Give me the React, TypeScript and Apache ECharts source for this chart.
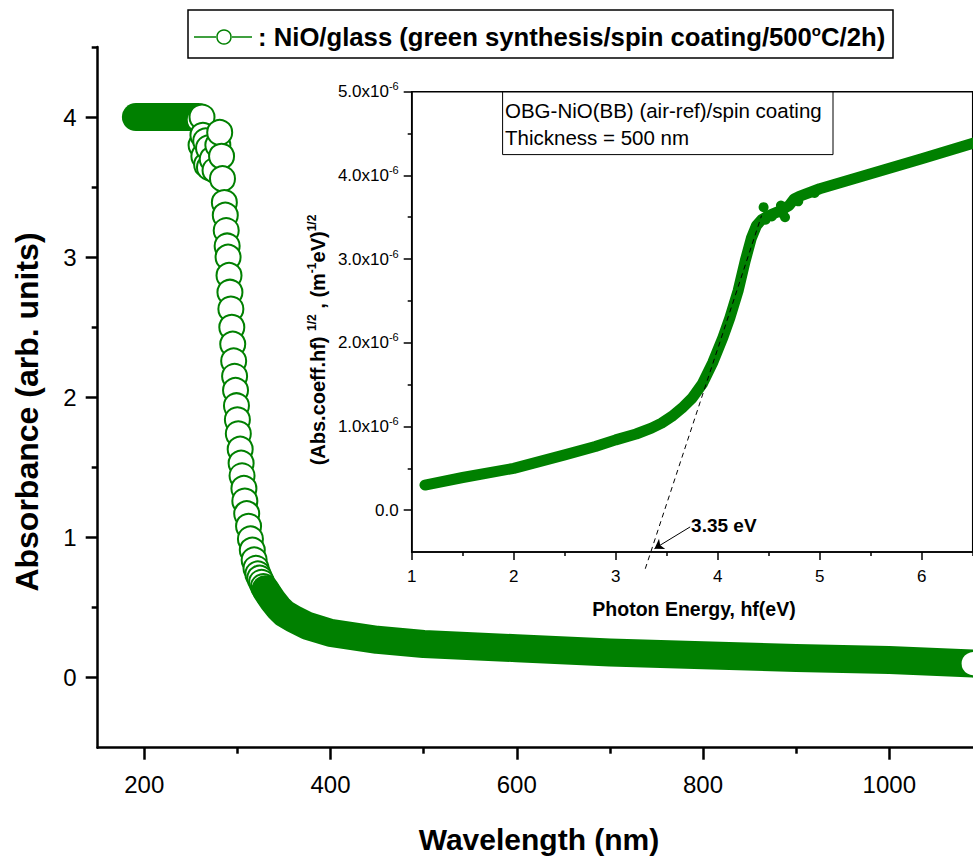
import React, { useEffect, useRef } from 'react';
import * as echarts from 'echarts';

// ---------- main panel data (wavelength nm, absorbance) ----------
const flatWavelength = [191, 200, 210, 220, 230, 240, 250, 258];
const flatAbsorbance = [4.0, 4.0, 4.0, 4.0, 4.0, 4.0, 4.0, 4.0];

const edgeWavelength = [259, 261, 262, 263, 264, 266, 267, 269, 270, 273, 276, 279, 281, 283, 284, 286, 287, 288, 289, 290, 291, 292, 293, 294, 295, 296, 297, 298, 299, 300, 301, 303, 304, 305, 307, 308, 310, 312, 314, 316, 318, 320, 322, 324, 326, 328, 331, 334];
const edgeAbsorbance = [3.98, 3.8, 4.0, 3.87, 3.72, 3.83, 3.66, 3.78, 3.64, 3.7, 3.62, 3.8, 3.89, 3.72, 3.56, 3.39, 3.3, 3.19, 3.08, 3.0, 2.87, 2.75, 2.63, 2.5, 2.38, 2.26, 2.15, 2.05, 1.94, 1.84, 1.74, 1.63, 1.53, 1.44, 1.35, 1.26, 1.17, 1.08, 0.99, 0.91, 0.84, 0.78, 0.74, 0.71, 0.68, 0.65, 0.62, 0.59];

const tailWavelength = [330, 334, 338, 344, 350, 360, 375, 400, 450, 500, 600, 700, 800, 900, 1000, 1090];
const tailAbsorbance = [0.63, 0.59, 0.55, 0.5, 0.46, 0.42, 0.37, 0.32, 0.27, 0.24, 0.21, 0.18, 0.16, 0.14, 0.125, 0.1];

const endWavelength = [1090];
const endAbsorbance = [0.1];

// ---------- inset data (photon energy eV, (alpha h nu)^1/2 in 1e-6 units) ----------
const photonEnergy = [1.13, 1.5, 2.0, 2.5, 2.8, 3.0, 3.2, 3.35, 3.45, 3.55, 3.65, 3.75, 3.85, 3.95, 4.05, 4.12, 4.2, 4.27, 4.33, 4.38, 4.43, 4.5, 4.6, 4.7, 4.75, 4.8, 5.0, 5.5, 6.0, 6.55];
const taucValue = [0.3, 0.39, 0.5, 0.66, 0.76, 0.84, 0.91, 0.98, 1.04, 1.12, 1.22, 1.34, 1.51, 1.76, 2.06, 2.3, 2.62, 2.98, 3.25, 3.4, 3.47, 3.52, 3.57, 3.64, 3.72, 3.75, 3.84, 4.02, 4.2, 4.4];

const noiseEnergy = [4.45, 4.47, 4.53, 4.62, 4.64, 4.66, 4.79, 4.95];
const noiseValue = [3.62, 3.47, 3.51, 3.64, 3.54, 3.5, 3.69, 3.79];

const tangentEnergy = [3.29, 4.43];
const tangentValue = [-0.7, 3.52];

const arrowFrom = [3.73, -0.2];
const arrowTo = [3.38, -0.46];
const bandGapLabelAt = [4.06, -0.18];
const bandGapText = '3.35 eV';

// ---------- ticks ----------
const mainXTicks = [200, 400, 600, 800, 1000];
const mainXMinor = [300, 500, 700, 900, 1100];
const mainYTicks = [0, 1, 2, 3, 4];
const mainYMinor = [0.5, 1.5, 2.5, 3.5, 4.5];
const insetXTicks = [1, 2, 3, 4, 5, 6];
const insetXMinor = [1.5, 2.5, 3.5, 4.5, 5.5, 6.5];
const insetYTicks = [0, 1, 2, 3, 4, 5];
const insetYMinor = [0.5, 1.5, 2.5, 3.5, 4.5];

const G = '#008000';
const FONT = "'Liberation Sans', Arial, Helvetica, sans-serif";

const zip = (a: number[], b: number[]) => a.map((v, i) => [v, b[i]]);

function majorAxis(gridIndex: number, min: number, max: number, ticks: number[], pos: string, opts: any) {
  return {
    type: 'value', gridIndex, min, max, position: pos,
    axisLine: { show: true, onZero: false, lineStyle: { color: '#000', width: opts.lw } },
    axisTick: { show: true, inside: false, length: opts.tl, customValues: ticks, lineStyle: { color: '#000', width: opts.lw } },
    axisLabel: {
      show: true, customValues: ticks, fontSize: opts.fs, color: '#000', margin: opts.margin, fontFamily: FONT,
      formatter: opts.formatter || ((v: number) => String(v)), rich: opts.rich,
    },
    splitLine: { show: false },
  };
}
function minorAxis(gridIndex: number, min: number, max: number, ticks: number[], pos: string, len: number, lw: number) {
  return {
    type: 'value', gridIndex, min, max, position: pos,
    axisLine: { show: false, onZero: false },
    axisTick: { show: true, inside: false, length: len, customValues: ticks, lineStyle: { color: '#000', width: lw } },
    axisLabel: { show: false },
    splitLine: { show: false },
  };
}

export default function App() {
  const ref = useRef<HTMLDivElement>(null);
  useEffect(() => {
    if (!ref.current) return;
    const chart = echarts.init(ref.current, undefined, { renderer: 'svg' });
    const option: any = {
      animation: false,
      textStyle: { fontFamily: FONT, color: '#000' },
      grid: [
        { left: 97.7, top: 47, width: 884.7, height: 700.7, show: false, containLabel: false, outerBoundsMode: 'none' },
        { left: 411.7, top: 91.7, width: 561, height: 460.3, show: true, borderColor: '#000', borderWidth: 1.5, backgroundColor: 'rgba(0,0,0,0)', containLabel: false, outerBoundsMode: 'none' },
      ],
      xAxis: [
        majorAxis(0, 150, 1100, mainXTicks, 'bottom', { lw: 2.5, tl: 12, fs: 24, margin: 25 }),
        minorAxis(0, 150, 1100, mainXMinor, 'bottom', 6, 2.5),
        majorAxis(1, 1, 6.5, insetXTicks, 'bottom', { lw: 1.5, tl: 8, fs: 17, margin: 16 }),
        minorAxis(1, 1, 6.5, insetXMinor, 'bottom', 4, 1.5),
      ],
      yAxis: [
        majorAxis(0, -0.5, 4.5, mainYTicks, 'left', { lw: 2.5, tl: 12, fs: 24, margin: 21 }),
        minorAxis(0, -0.5, 4.5, mainYMinor, 'left', 6, 2.5),
        majorAxis(1, -0.5, 5, insetYTicks, 'left', {
          lw: 1.5, tl: 8, fs: 17, margin: 13,
          formatter: (v: number) => (v === 0 ? '{a|0.0}' : `{a|${v.toFixed(1)}x10}{b|-6}`),
          rich: {
            a: { fontSize: 17, color: '#000', fontFamily: FONT, lineHeight: 22 },
            b: { fontSize: 11, color: '#000', fontFamily: FONT, verticalAlign: 'top', lineHeight: 13 },
          },
        }),
        minorAxis(1, -0.5, 5, insetYMinor, 'left', 4, 1.5),
      ],
      series: [
        {
          type: 'line', xAxisIndex: 0, yAxisIndex: 0, data: zip(flatWavelength, flatAbsorbance),
          symbol: 'none', showSymbol: false, silent: true, z: 2,
          lineStyle: { color: G, width: 28, cap: 'round', join: 'round' },
        },
        {
          type: 'scatter', xAxisIndex: 0, yAxisIndex: 0, data: zip(edgeWavelength, edgeAbsorbance),
          symbol: 'circle', symbolSize: 25, silent: true, z: 3,
          itemStyle: { color: '#fff', borderColor: G, borderWidth: 2, opacity: 1 },
        },
        {
          type: 'line', xAxisIndex: 0, yAxisIndex: 0, data: zip(tailWavelength, tailAbsorbance),
          symbol: 'none', showSymbol: false, silent: true, z: 4,
          lineStyle: { color: G, width: 28, cap: 'round', join: 'round' },
        },
        {
          type: 'scatter', xAxisIndex: 0, yAxisIndex: 0, data: zip(endWavelength, endAbsorbance),
          symbol: 'circle', symbolSize: 25, silent: true, z: 5, clip: false,
          itemStyle: { color: '#fff', borderColor: G, borderWidth: 2, opacity: 1 },
        },
        {
          type: 'line', xAxisIndex: 2, yAxisIndex: 2, data: zip(photonEnergy, taucValue),
          symbol: 'none', showSymbol: false, silent: true, z: 3,
          lineStyle: { color: G, width: 11, cap: 'round', join: 'round' },
        },
        {
          type: 'scatter', xAxisIndex: 2, yAxisIndex: 2, data: zip(noiseEnergy, noiseValue),
          symbol: 'circle', symbolSize: 10, silent: true, z: 3,
          itemStyle: { color: G, opacity: 1 },
        },
        {
          type: 'line', xAxisIndex: 2, yAxisIndex: 2, data: zip(tangentEnergy, tangentValue),
          symbol: 'none', showSymbol: false, silent: true, clip: false, z: 4,
          lineStyle: { color: '#000', width: 1, type: [5, 4] },
          markLine: {
            silent: true, animation: false, symbolSize: 9,
            label: { show: false },
            lineStyle: { color: '#000', width: 1, type: 'solid' },
            data: [[
              { coord: arrowFrom, symbol: 'none' },
              { coord: arrowTo, symbol: 'arrow' },
            ]],
          },
        },
        {
          type: 'scatter', xAxisIndex: 2, yAxisIndex: 2, data: [bandGapLabelAt],
          symbol: 'circle', symbolSize: 1, silent: true, z: 6,
          itemStyle: { color: 'rgba(0,0,0,0)' },
          label: {
            show: true, position: 'inside', formatter: bandGapText, fontSize: 19, fontWeight: 'bold',
            color: '#000', fontFamily: FONT, textBorderWidth: 0, opacity: 1,
          },
        },
      ],
      graphic: [
        // legend box
        { type: 'rect', z: 50, shape: { x: 188, y: 10, width: 705, height: 48 }, style: { fill: '#fff', stroke: '#000', lineWidth: 1.5 } },
        { type: 'line', z: 51, shape: { x1: 194, y1: 37, x2: 216, y2: 37 }, style: { stroke: G, lineWidth: 1.5 } },
        { type: 'circle', z: 52, shape: { cx: 224, cy: 37, r: 7 }, style: { fill: '#fff', stroke: G, lineWidth: 1.5 } },
        { type: 'line', z: 51, shape: { x1: 232, y1: 37, x2: 252, y2: 37 }, style: { stroke: G, lineWidth: 1.5 } },
        {
          type: 'text', z: 52, x: 258, y: 37,
          style: {
            text: '{t|: NiO/glass (green synthesis/spin coating/500}{s|o}{t|C/2h)}',
            align: 'left', verticalAlign: 'middle',
            rich: {
              t: { fontSize: 25.7, fontWeight: 'bold', fontFamily: FONT, fill: '#000', lineHeight: 28 },
              s: { fontSize: 15, fontWeight: 'bold', fontFamily: FONT, fill: '#000', verticalAlign: 'top', lineHeight: 15 },
            },
          },
        },
        // inset text box
        { type: 'rect', z: 50, shape: { x: 502.6, y: 92, width: 330.4, height: 62.6 }, style: { fill: '#fff', stroke: '#000', lineWidth: 1 } },
        { type: 'text', z: 51, x: 505, y: 110, style: { text: 'OBG-NiO(BB) (air-ref)/spin coating', font: `20.5px ${FONT}`, fill: '#000', align: 'left', verticalAlign: 'middle' } },
        { type: 'text', z: 51, x: 505, y: 137, style: { text: 'Thickness = 500 nm', font: `20.5px ${FONT}`, fill: '#000', align: 'left', verticalAlign: 'middle' } },
        // axis titles
        { type: 'text', z: 51, x: 539, y: 839, style: { text: 'Wavelength (nm)', font: `bold 30px ${FONT}`, fill: '#000', align: 'center', verticalAlign: 'middle' } },
        { type: 'text', z: 51, x: 27, y: 412, rotation: Math.PI / 2, style: { text: 'Absorbance (arb. units)', font: `bold 32px ${FONT}`, fill: '#000', align: 'center', verticalAlign: 'middle' } },
        { type: 'text', z: 51, x: 694, y: 609, style: { text: 'Photon Energy, hf(eV)', font: `bold 19.5px ${FONT}`, fill: '#000', align: 'center', verticalAlign: 'middle' } },
        {
          type: 'text', z: 51, x: 318, y: 340, rotation: Math.PI / 2,
          style: {
            text: '{m|(Abs.coeff.hf) }{s|1/2}{m| , (m}{s|-1}{m|eV)}{s|1/2}',
            align: 'center', verticalAlign: 'middle',
            rich: {
              m: { fontSize: 20, fontWeight: 'bold', fontFamily: FONT, fill: '#000', lineHeight: 24 },
              s: { fontSize: 12, fontWeight: 'bold', fontFamily: FONT, fill: '#000', verticalAlign: 'top', lineHeight: 13 },
            },
          },
        },
      ],
    };
    chart.setOption(option);
    return () => chart.dispose();
  }, []);
  return <div ref={ref} style={{ position: 'fixed', left: 0, top: 0, width: 973, height: 856, background: '#fff' }} />;
}
